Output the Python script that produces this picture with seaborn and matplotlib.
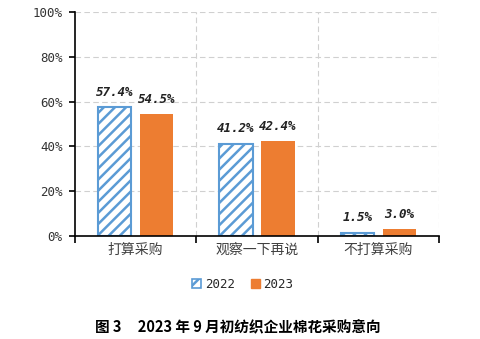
import matplotlib
matplotlib.use("Agg")
import matplotlib.pyplot as plt
from matplotlib.patches import Patch
from matplotlib.ticker import MultipleLocator, FuncFormatter
import seaborn as sns
import pandas as pd

categories = ["打算采购", "观察一下再说", "不打算采购"]
years = ["2022", "2023"]
values_2022 = [57.4, 41.2, 1.5]
values_2023 = [54.5, 42.4, 3.0]
title_text = "图 3     2023 年 9 月初纺织企业棉花采购意向"

blue = "#5B9BD5"
orange = "#ED7D31"

df = pd.DataFrame({
    "cat": categories * 2,
    "year": [years[0]] * 3 + [years[1]] * 3,
    "val": values_2022 + values_2023,
})

sns.set_theme(style="white")
plt.rcParams["font.family"] = ["DejaVu Sans Mono", "Noto Sans CJK SC"]
plt.rcParams["hatch.linewidth"] = 1.8

fig = plt.figure(figsize=(4.8, 3.39), dpi=100)
ax = fig.add_axes([75/480, 1-236/339, (439-75)/480, (236-12)/339])

sns.barplot(data=df, x="cat", y="val", hue="year", palette=[blue, orange],
            width=0.69, gap=0.2, ax=ax, legend=False, saturation=1)

c2022, c2023 = ax.containers[0], ax.containers[1]
for p in c2022:
    p.set_facecolor("white")
    p.set_edgecolor(blue)
    p.set_hatch("///")
    p.set_linewidth(1.5)
for p in c2023:
    p.set_facecolor(orange)
    p.set_edgecolor(orange)
    p.set_linewidth(0)

for c in (c2022, c2023):
    ax.bar_label(c, labels=[f"{v.get_height():.1f}%" for v in c], padding=6,
                 fontsize=9, fontweight="bold", fontstyle="oblique",
                 family="DejaVu Sans Mono", color="#222222")

ax.set_ylim(0, 100)
ax.set_xlim(-0.5, 2.5)
ax.yaxis.set_major_locator(MultipleLocator(20))
ax.yaxis.set_major_formatter(FuncFormatter(lambda v, _: f"{v:.0f}%"))
ax.set_xlabel("")
ax.set_ylabel("")

# grid
ax.grid(False)
for y in [20, 40, 60, 80, 100]:
    ax.axhline(y, color="#d0d0d0", lw=0.8, ls=(0, (5, 3)), zorder=0)
for x in [0.5, 1.5, 2.5]:
    ax.axvline(x, color="#d0d0d0", lw=0.8, ls=(0, (5, 3)), zorder=0)

for s in ["top", "right"]:
    ax.spines[s].set_visible(False)
ax.spines["left"].set_color("black")
ax.spines["bottom"].set_color("black")
ax.spines["left"].set_linewidth(1.2)
ax.spines["bottom"].set_linewidth(1.2)

ax.set_xticks([0, 1, 2])
ax.set_xticklabels(categories, family="Noto Sans CJK SC", fontsize=10, color="#404040")
ax.tick_params(axis="x", length=0, pad=5)
ax.set_xticks([-0.5, 0.5, 1.5, 2.5], minor=True)
ax.tick_params(axis="x", which="minor", length=5, width=1.2, color="black", direction="out", bottom=True)
ax.tick_params(axis="y", length=4, width=1.2, color="black", labelsize=9, left=True, pad=5)
for t in ax.get_yticklabels():
    t.set_family("DejaVu Sans Mono")
    t.set_color("#333333")

handles = [
    Patch(facecolor="white", edgecolor=blue, hatch="///", lw=1.2, label="2022"),
    Patch(facecolor=orange, edgecolor=orange, label="2023"),
]
fig.legend(handles=handles, loc="center", bbox_to_anchor=(243/480, 1-284/339), ncol=2,
           frameon=False, handlelength=0.7, handleheight=0.7,
           handletextpad=0.3, columnspacing=1.3, prop={"family": "DejaVu Sans Mono", "size": 9})

fig.text(238/480, 1-327/339, title_text, ha="center", va="center",
         family=["Noto Sans CJK SC", "DejaVu Sans"], fontweight="bold", fontsize=10.5, color="black")

fig.savefig("out.png", dpi=100)
